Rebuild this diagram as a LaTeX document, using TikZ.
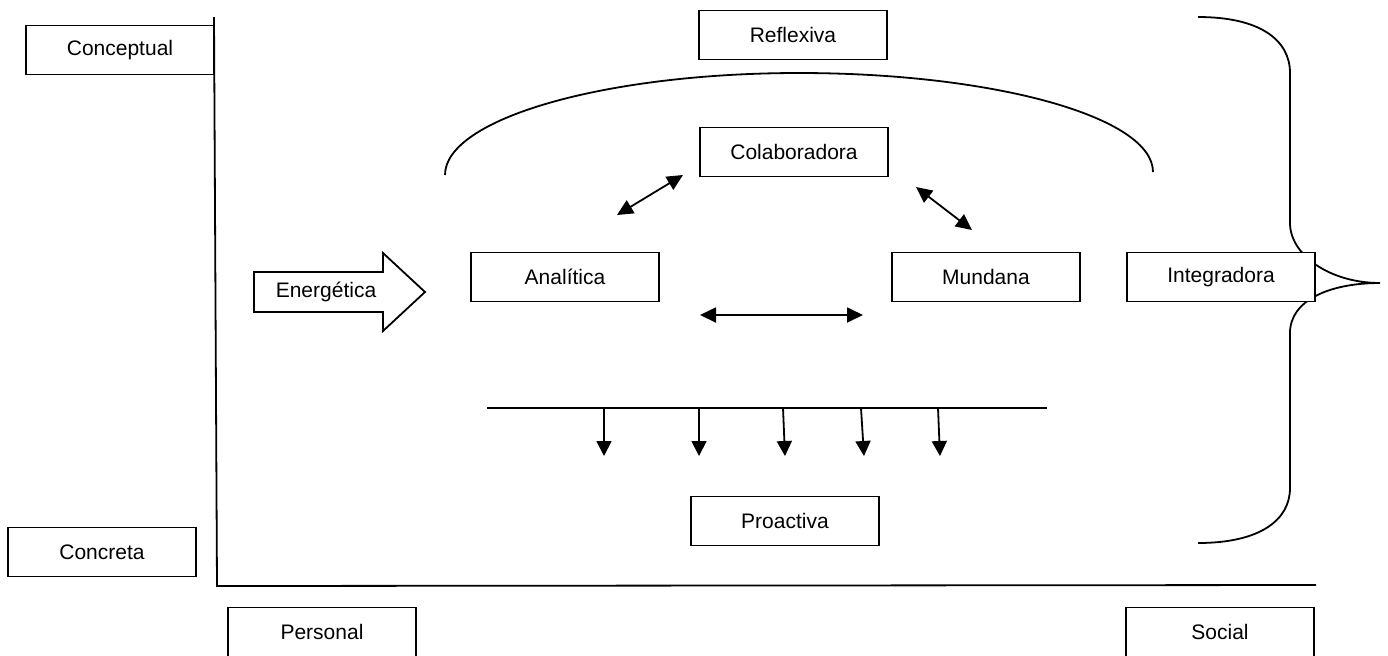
\documentclass[tikz,border=0pt]{standalone}
\usepackage{fontspec}
\setmainfont{Liberation Sans}
\usetikzlibrary{arrows.meta}

\begin{document}
\begin{tikzpicture}[x=0.5pt,y=-0.5pt,line width=0.9pt]
        %
        % `caja' is used for every labelled box.
        % `dosflechas' is used for the double arrows, `bajada' for the arrows down.
        \tikzstyle{caja} = [draw,fill=white,minimum width=94pt,minimum height=24.5pt,inner sep=0pt,font=\fontsize{10.5}{12}\selectfont]
        \tikzstyle{dosflechas} = [{Triangle[length=8pt,width=7.5pt]}-{Triangle[length=8pt,width=7.5pt]}]
        \tikzstyle{bajada} = [-{Triangle[length=7.5pt,width=7.5pt]}]
        \useasboundingbox (0,0) rectangle (1388,655);
        %
        % Axes
        \coordinate (ejey) at (214,17);
        \coordinate (origen) at (217,586);
        \coordinate (ejex) at (1316,585);
        \draw (ejey) -- (origen) -- (ejex);
        %
        % Arc and brace (drawn first, the boxes cover them)
        \draw (445,175) .. controls (445,119) and (604,73) .. (799,73)
              .. controls (994,73) and (1153,117) .. (1153,172);
        \draw (1198,17) .. controls (1260,17) and (1290,40) .. (1290,73) -- (1290,223)
              .. controls (1290,255) and (1330,283) .. (1380,283)
              .. controls (1330,283) and (1290,300) .. (1290,333) -- (1290,488)
              .. controls (1290,520) and (1260,543) .. (1198,543);
        %
        % Left column
        \node[caja] (concep) at (120,50) {Conceptual};
        \node[caja] (concre) at (102,552) {Concreta};
        %
        % Bottom row
        \node[caja] (perso) at (322,632) {Personal};
        \node[caja] (soci) at (1220,632) {Social};
        %
        % Centre
        \node[caja] (refle) at (793,35) {Reflexiva};
        \node[caja] (colab) at (794,152) {Colaboradora};
        \node[caja] (anali) at (565,277) {Anal\'{\i}tica};
        \node[caja] (munda) at (986,277) {Mundana};
        \node[caja] (integ) at (1221,277) {Integradora};
        \node[caja] (proac) at (785,521) {Proactiva};
        %
        % Energetica arrow
        \draw (254,272) -- (383,272) -- (383,253) -- (425,292) -- (383,331) -- (383,312) -- (254,312) -- cycle;
        \node[font=\fontsize{10.5}{12}\selectfont] (energ) at (326,292) {Energ\'etica};
        %
        % Double arrows
        \coordinate (ac1) at (617,215);
        \coordinate (ac2) at (683,175);
        \coordinate (cm1) at (916,187);
        \coordinate (cm2) at (972,230);
        \coordinate (am1) at (700,315);
        \coordinate (am2) at (863,315);
        \draw[dosflechas] (ac1) -- (ac2);
        \draw[dosflechas] (cm1) -- (cm2);
        \draw[dosflechas] (am1) -- (am2);
        %
        % Bar with arrows down to Proactiva
        \coordinate (barra1) at (487,408);
        \coordinate (barra2) at (1047,408);
        \draw (barra1) -- (barra2);
        \foreach \a/\b in {604/604,699/699,783/785,861/864,938/940}
            \draw[bajada] (\a,408) -- (\b,456);
        %
\end{tikzpicture}
\end{document}
